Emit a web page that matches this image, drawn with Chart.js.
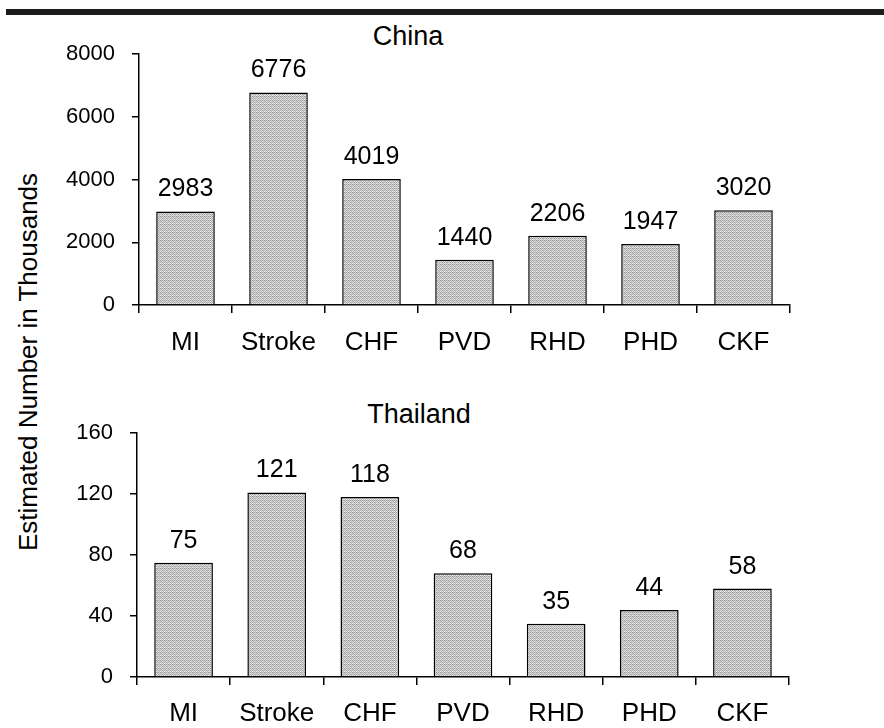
<!DOCTYPE html>
<html>
<head>
<meta charset="utf-8">
<script src="https://cdn.jsdelivr.net/npm/chart.js@4.4.1/dist/chart.umd.min.js"></script>
<style>
  body { margin: 0; background: #fff; width: 884px; height: 728px; position: relative; overflow: hidden; color: #000;
         font-family: "Liberation Sans", Arial, sans-serif; }
  #topbar { position: absolute; left: 6px; right: 0; top: 9px; height: 6px; background: #1c1c1c; }
  .txt { position: absolute; white-space: nowrap; line-height: 1; }
  .title { transform: translateX(-50%); font-size: 27px; }
  #ylabel { transform: translate(-50%, -50%) rotate(-90deg); font-size: 26px; }
  canvas { position: absolute; left: 0; }
</style>
</head>
<body>
<div id="topbar"></div>
<div class="txt title" style="left:408px; top:23px;">China</div>
<div class="txt title" style="left:419px; top:401px;">Thailand</div>
<div id="ylabel" class="txt" style="left:28px; top:362px;">Estimated Number in Thousands</div>
<canvas id="china" width="884" height="380" style="top:0"></canvas>
<canvas id="thai" width="884" height="348" style="top:380px"></canvas>
<script>
const categories = ["MI", "Stroke", "CHF", "PVD", "RHD", "PHD", "CKF"];
const chinaValues = [2983, 6776, 4019, 1440, 2206, 1947, 3020];
const thailandValues = [75, 121, 118, 68, 35, 44, 58];
const chinaTicks = [0, 2000, 4000, 6000, 8000];
const thailandTicks = [0, 40, 80, 120, 160];

const FAMILY = '"Liberation Sans", Arial, sans-serif';

// ordered-dither grey, close to the printed stipple
function stipple() {
  const bayer = [0, 8, 2, 10, 12, 4, 14, 6, 3, 11, 1, 9, 15, 7, 13, 5];
  const c = document.createElement("canvas");
  c.width = 4; c.height = 4;
  const g = c.getContext("2d");
  bayer.forEach((v, i) => {
    const s = 150 + v * 6;
    g.fillStyle = "rgb(" + s + "," + s + "," + s + ")";
    g.fillRect(i % 4, Math.floor(i / 4), 1, 1);
  });
  return g.createPattern(c, "repeat");
}

const valueLabels = {
  id: "valueLabels",
  afterDatasetsDraw(chart) {
    const ctx = chart.ctx;
    const meta = chart.getDatasetMeta(0);
    const data = chart.data.datasets[0].data;
    ctx.save();
    ctx.fillStyle = "#000";
    ctx.font = "25px " + FAMILY;
    ctx.textAlign = "center";
    ctx.textBaseline = "alphabetic";
    meta.data.forEach((bar, i) => {
      ctx.fillText(String(data[i]), bar.x, bar.y - 15);
    });
    ctx.restore();
  }
};

function makeChart(id, values, ticks, box) {
  return new Chart(document.getElementById(id), {
    type: "bar",
    data: {
      labels: categories,
      datasets: [{
        data: values,
        backgroundColor: stipple(),
        borderColor: "#000",
        borderWidth: 1.5,
        barPercentage: 0.63,
        categoryPercentage: 1
      }]
    },
    options: {
      responsive: false,
      animation: false,
      devicePixelRatio: 1,
      layout: { padding: { left: 0, right: 884 - box.right, top: box.top, bottom: box.padBottom } },
      plugins: { legend: { display: false }, tooltip: { enabled: false } },
      scales: {
        x: {
          grid: { display: true, drawOnChartArea: false, tickLength: 8, color: "#000", lineWidth: 1.5 },
          border: { display: true, color: "#000", width: 1.5 },
          ticks: { color: "#000", font: { family: FAMILY, size: 26 }, padding: box.labelPad, maxRotation: 0 },
          afterFit(scale) { scale.height = box.xHeight; }
        },
        y: {
          min: ticks[0],
          max: ticks[ticks.length - 1],
          afterBuildTicks(scale) { scale.ticks = ticks.map(v => ({ value: v })); },
          grid: { display: true, drawOnChartArea: false, tickLength: 7, color: "#000", lineWidth: 1.5 },
          border: { display: true, color: "#000", width: 1.5 },
          ticks: { color: "#000", font: { family: FAMILY, size: 22 }, padding: 17, callback: v => String(v) },
          afterFit(scale) { scale.width = box.left; }
        }
      }
    },
    plugins: [valueLabels]
  });
}

makeChart("china", chinaValues, chinaTicks, { left: 139, right: 790, top: 54, padBottom: 10, xHeight: 65, labelPad: 14 });
makeChart("thai", thailandValues, thailandTicks, { left: 137, right: 789, top: 53, padBottom: 3, xHeight: 48, labelPad: 13 });
</script>
</body>
</html>
